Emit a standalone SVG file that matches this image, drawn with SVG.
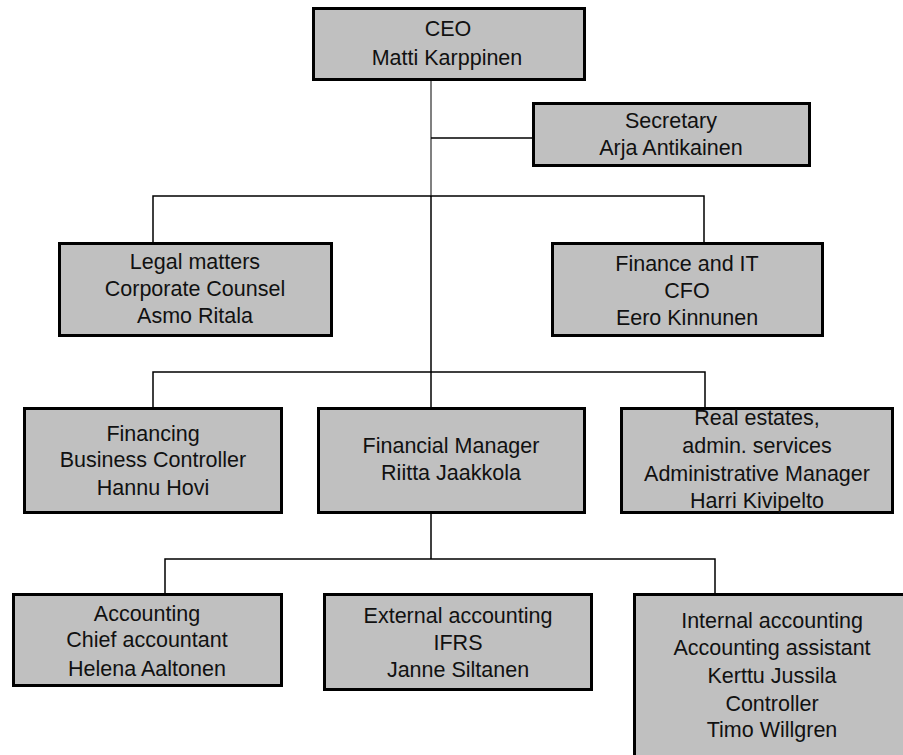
<svg xmlns="http://www.w3.org/2000/svg" width="903" height="755" viewBox="0 0 903 755">
<style>
.box{fill:#c0c0c0;stroke:#000;stroke-width:3}
.ln{fill:none;stroke:#000;stroke-width:1.5}
.tr{fill:none;stroke:#808080;stroke-width:2}
text{font-family:"Liberation Sans",Arial,sans-serif;font-size:21.5px;fill:#111;text-anchor:middle}
</style>
<rect width="903" height="755" fill="#fff"/>
<g id="connectors">
<line class="tr" x1="431" y1="81" x2="431" y2="197"/>
<line class="ln" x1="431" y1="196" x2="431" y2="407"/>
<line class="ln" x1="431" y1="138" x2="532" y2="138"/>
<polyline class="ln" points="153,242 153,196 704,196 704,242"/>
<polyline class="ln" points="153,407 153,372 705,372 705,407"/>
<line class="ln" x1="431" y1="514" x2="431" y2="559"/>
<polyline class="ln" points="165,593 165,559 715,559 715,593"/>
</g>
<g id="ceo"><rect class="box" x="313.5" y="8.5" width="271" height="71"/>
<text x="448" y="36">CEO</text><text x="447" y="65">Matti Karppinen</text></g>
<g id="secretary"><rect class="box" x="533.5" y="103.5" width="276" height="62"/>
<text x="671" y="128">Secretary</text><text x="671" y="155">Arja Antikainen</text></g>
<g id="legal"><rect class="box" x="59.5" y="243.5" width="272" height="92"/>
<text x="195" y="269">Legal matters</text><text x="195" y="296">Corporate Counsel</text><text x="195" y="323">Asmo Ritala</text></g>
<g id="finance"><rect class="box" x="552.5" y="243.5" width="270" height="92"/>
<text x="687" y="271">Finance and IT</text><text x="687" y="298">CFO</text><text x="687" y="325">Eero Kinnunen</text></g>
<g id="financing"><rect class="box" x="24.5" y="408.5" width="257" height="104"/>
<text x="153" y="441">Financing</text><text x="153" y="467">Business Controller</text><text x="153" y="495">Hannu Hovi</text></g>
<g id="finmanager"><rect class="box" x="318.5" y="408.5" width="266" height="104"/>
<text x="451" y="453">Financial Manager</text><text x="451" y="480">Riitta Jaakkola</text></g>
<g id="realestates"><rect class="box" x="621.5" y="408.5" width="271" height="104"/>
<text x="757" y="425">Real estates,</text><text x="757" y="453">admin. services</text><text x="757" y="481">Administrative Manager</text><text x="757" y="508">Harri Kivipelto</text></g>
<g id="accounting"><rect class="box" x="13.5" y="594.5" width="268" height="91"/>
<text x="147" y="621">Accounting</text><text x="147" y="647">Chief accountant</text><text x="147" y="676">Helena Aaltonen</text></g>
<g id="external"><rect class="box" x="324.5" y="594.5" width="267" height="95"/>
<text x="458" y="623">External accounting</text><text x="458" y="650">IFRS</text><text x="458" y="677">Janne Siltanen</text></g>
<g id="internal"><rect class="box" x="634.5" y="594.5" width="300" height="200"/>
<text x="772" y="628">Internal accounting</text><text x="772" y="655">Accounting assistant</text><text x="772" y="683">Kerttu Jussila</text><text x="772" y="711">Controller</text><text x="772" y="737">Timo Willgren</text></g>
</svg>
